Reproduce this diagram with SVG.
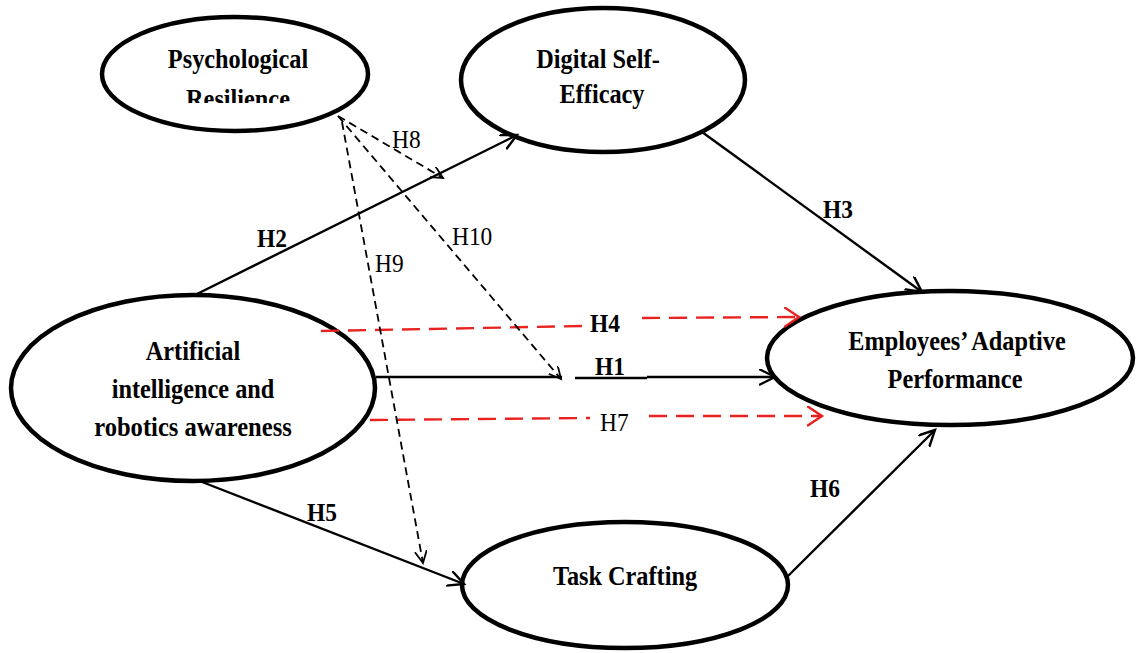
<svg xmlns="http://www.w3.org/2000/svg" width="1137" height="653" viewBox="0 0 1137 653">
  <style>
    .node { fill: #fff; stroke: #000; stroke-width: 4.5; }
    .nl { font-family: "Liberation Serif", "Times New Roman", serif; font-weight: bold; font-size: 27px; text-anchor: middle; fill: #000; }
    .hb { font-family: "Liberation Serif", "Times New Roman", serif; font-weight: bold; font-size: 26px; fill: #000; }
    .hn { font-family: "Liberation Serif", "Times New Roman", serif; font-size: 26px; fill: #000; }
    .solid { fill: none; stroke: #000; stroke-width: 2.4; marker-end: url(#arrowSolid); }
    .dash { fill: none; stroke: #000; stroke-width: 1.8; stroke-dasharray: 8 5; marker-end: url(#arrowDash); }
    .red { fill: none; stroke: #e8221f; stroke-width: 2.4; stroke-dasharray: 18 9; }
  </style>
  <defs>
    <marker id="arrowSolid" markerUnits="userSpaceOnUse" markerWidth="20" markerHeight="20" refX="16" refY="8" orient="auto">
      <path d="M0,0 L16,8 L0,16" fill="none" stroke="#000" stroke-width="2.4" stroke-dasharray="none"/>
    </marker>
    <marker id="arrowDash" markerUnits="userSpaceOnUse" markerWidth="16" markerHeight="16" refX="12" refY="6" orient="auto">
      <path d="M0,0 L12,6 L0,12" fill="none" stroke="#000" stroke-width="1.8" stroke-dasharray="none"/>
    </marker>
    <marker id="arrowRed" markerUnits="userSpaceOnUse" markerWidth="20" markerHeight="22" refX="15" refY="10" orient="auto">
      <path d="M0,0 L15,10 L0,20" fill="none" stroke="#e8221f" stroke-width="2.4" stroke-dasharray="none"/>
    </marker>
    <clipPath id="resClip" clipPathUnits="userSpaceOnUse">
      <rect x="100" y="0" width="270" height="103"/>
    </clipPath>
  </defs>

  <rect width="1137" height="653" fill="#fff"/>

  <!-- nodes -->
  <g id="psychological-resilience">
    <ellipse class="node" cx="235" cy="74" rx="133" ry="57"/>
    <text class="nl" transform="translate(238,68) scale(0.9,1)">Psychological</text>
    <g clip-path="url(#resClip)">
      <text class="nl" transform="translate(238,108) scale(0.9,1)">Resilience</text>
    </g>
  </g>

  <g id="digital-self-efficacy">
    <ellipse class="node" cx="603" cy="80" rx="142" ry="72"/>
    <text class="nl" transform="translate(598,68) scale(0.9,1)">Digital Self-</text>
    <text class="nl" transform="translate(602,103) scale(0.9,1)">Efficacy</text>
  </g>

  <g id="ai-robotics-awareness">
    <ellipse class="node" cx="193" cy="388" rx="182" ry="93"/>
    <text class="nl" transform="translate(193,360) scale(0.9,1)">Artificial</text>
    <text class="nl" transform="translate(193,398) scale(0.9,1)">intelligence and</text>
    <text class="nl" transform="translate(193,436) scale(0.91,1)">robotics awareness</text>
  </g>

  <g id="adaptive-performance">
    <ellipse class="node" cx="950" cy="358" rx="183" ry="67"/>
    <text class="nl" transform="translate(957,350) scale(0.9,1)">Employees’ Adaptive</text>
    <text class="nl" transform="translate(955,388) scale(0.9,1)">Performance</text>
  </g>

  <g id="task-crafting">
    <ellipse class="node" cx="625" cy="585" rx="163" ry="63"/>
    <text class="nl" transform="translate(625,585) scale(0.9,1)">Task Crafting</text>
  </g>

  <!-- connectors -->
  <g id="connectors">
    <!-- direct paths -->
    <path class="solid" d="M197,294 L517,135"/>
    <path class="solid" d="M702,132 L922,292"/>
    <path class="solid" d="M197,480 L464,584"/>
    <path class="solid" d="M787,577 L935,430"/>
    <path class="solid" d="M376,377 H562 M575,378 H647 M647,377 H775"/>

    <!-- mediated paths -->
    <path class="red" d="M321,331 L584,326"/>
    <path class="red" d="M642,318 L799,317" marker-end="url(#arrowRed)"/>
    <path class="red" d="M370,420 L590,418"/>
    <path class="red" d="M649,416 L822,416" marker-end="url(#arrowRed)"/>

    <!-- moderation paths -->
    <path class="dash" d="M338,116 L443,178"/>
    <path class="dash" d="M338,116 L561,379"/>
    <path class="dash" d="M342,122 L423,563"/>

    <!-- path labels -->
    <text class="hb" transform="translate(257,247) scale(0.9,1)">H2</text>
    <text class="hb" transform="translate(823,218) scale(0.9,1)">H3</text>
    <text class="hb" transform="translate(590,332) scale(0.9,1)">H4</text>
    <text class="hb" transform="translate(595,375) scale(0.9,1)">H1</text>
    <text class="hn" transform="translate(600,431) scale(0.9,1)">H7</text>
    <text class="hb" transform="translate(307,521) scale(0.9,1)">H5</text>
    <text class="hb" transform="translate(810,497) scale(0.9,1)">H6</text>
    <text class="hn" transform="translate(392,148) scale(0.9,1)">H8</text>
    <text class="hn" transform="translate(375,272) scale(0.9,1)">H9</text>
    <text class="hn" transform="translate(452,245) scale(0.9,1)">H10</text>
  </g>
</svg>
